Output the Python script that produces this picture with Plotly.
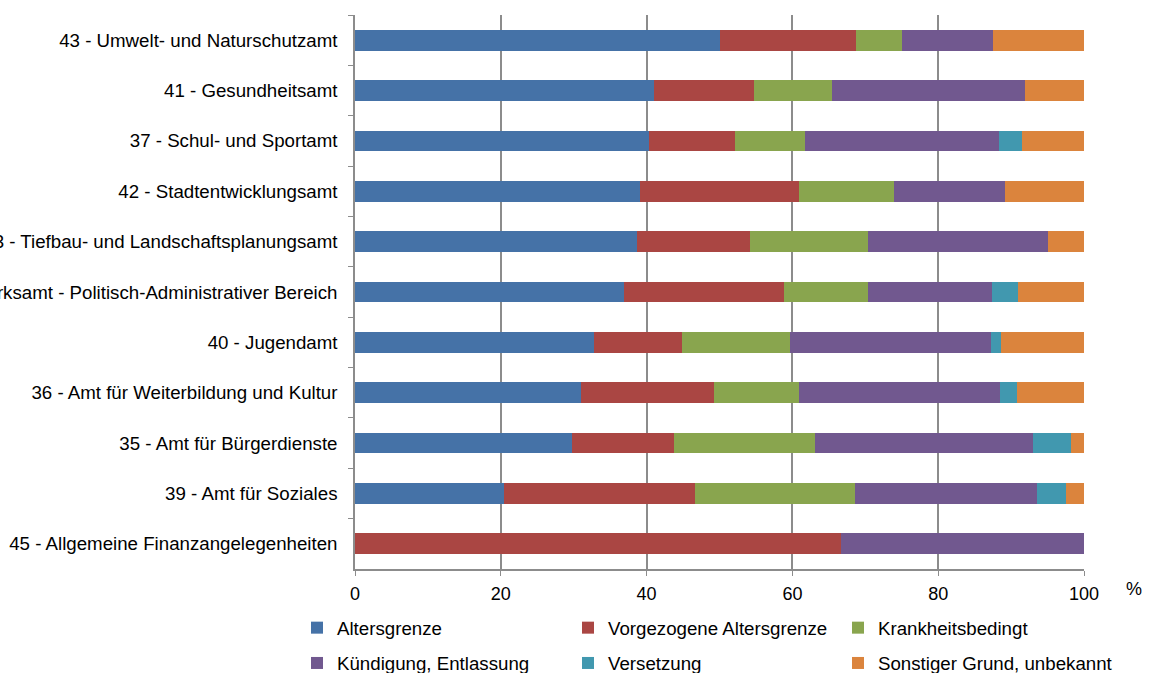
import plotly.graph_objects as go

FONT_FAMILY = "Liberation Sans, Arial, sans-serif"

# categories, top to bottom
aemter = [
    "43 - Umwelt- und Naturschutzamt",
    "41 - Gesundheitsamt",
    "37 - Schul- und Sportamt",
    "42 - Stadtentwicklungsamt",
    "63 - Tiefbau- und Landschaftsplanungsamt",
    "Bezirksamt - Politisch-Administrativer Bereich",
    "40 - Jugendamt",
    "36 - Amt für Weiterbildung und Kultur",
    "35 - Amt für Bürgerdienste",
    "39 - Amt für Soziales",
    "45 - Allgemeine Finanzangelegenheiten",
]

# shares in %, same order as aemter
altersgrenze = [50.0, 41.0, 40.3, 39.1, 38.7, 36.9, 32.8, 31.0, 29.8, 20.4, 0.0]
vorgezogen = [18.75, 13.8, 11.8, 21.8, 15.5, 22.0, 12.1, 18.3, 13.9, 26.3, 66.7]
krankheit = [6.25, 10.6, 9.6, 13.1, 16.2, 11.5, 14.8, 11.6, 19.4, 21.9, 0.0]
kuendigung = [12.5, 26.5, 26.7, 15.2, 24.7, 17.0, 27.5, 27.6, 29.9, 24.9, 33.3]
versetzung = [0.0, 0.0, 3.1, 0.0, 0.0, 3.6, 1.4, 2.3, 5.2, 4.0, 0.0]
sonstiges = [12.5, 8.1, 8.5, 10.8, 4.9, 9.0, 11.4, 9.2, 1.8, 2.5, 0.0]

# (name, values, colour, legend column)
series = [
    ("Altersgrenze", altersgrenze, "#4572A7", "legend"),
    ("Vorgezogene Altersgrenze", vorgezogen, "#AA4643", "legend2"),
    ("Krankheitsbedingt", krankheit, "#89A54E", "legend3"),
    ("Kündigung, Entlassung", kuendigung, "#71588F", "legend"),
    ("Versetzung", versetzung, "#4198AF", "legend2"),
    ("Sonstiger Grund, unbekannt", sonstiges, "#DB843D", "legend3"),
]

x_ticks = [0, 20, 40, 60, 80, 100]

W, H = 1150, 673
L, R, T, B = 355, 66, 15, 104
PW, PH = W - L - R, H - T - B


def px_x(px):
    return (px - L) / PW


def px_y(py):
    return (H - B - py) / PH


fig = go.Figure()
for name, values, color, leg in series:
    fig.add_trace(go.Bar(
        y=aemter, x=values, name=name, orientation="h", legend=leg,
        legendgroup=name,
        marker=dict(color=color, line=dict(width=0)),
    ))

legend_style = dict(
    orientation="v", xref="paper", yref="paper", y=px_y(645.5),
    xanchor="left", yanchor="middle", font=dict(size=18.7),
    traceorder="grouped", tracegroupgap=8, itemclick=False, borderwidth=0,
    bgcolor="rgba(0,0,0,0)",
)

fig.update_layout(
    barmode="stack",
    bargap=0.59,
    width=W, height=H,
    paper_bgcolor="white",
    plot_bgcolor="white",
    margin=dict(l=L, r=R, t=T, b=B, pad=0, autoexpand=False),
    font=dict(family=FONT_FAMILY, size=18, color="black"),
    legend=dict(legend_style, x=px_x(297)),
    legend2=dict(legend_style, x=px_x(568)),
    legend3=dict(legend_style, x=px_x(838)),
    showlegend=True,
)

fig.update_xaxes(
    range=[0, 100], tickvals=x_ticks, showgrid=True, gridcolor="#8c8c8c", gridwidth=1.5,
    showline=True, linecolor="#8c8c8c", linewidth=1.5, ticks="outside", ticklen=5,
    tickcolor="#8c8c8c", zeroline=False, tickfont=dict(size=18), automargin=False,
    ticklabelstandoff=3,
)
fig.update_yaxes(
    autorange="reversed", showline=True, linecolor="#8c8c8c", linewidth=1.5,
    ticks="outside", ticklen=5, tickcolor="#8c8c8c", tickson="boundaries",
    showgrid=False, ticklabelstandoff=12, tickfont=dict(size=18.7), automargin=False,
)

fig.add_annotation(text="%", x=px_x(1134), xref="paper", y=px_y(589),
                   yref="paper", showarrow=False, font=dict(size=18),
                   xanchor="center", yanchor="middle")

fig.write_html("out.html", config={"displayModeBar": False},
               post_script="document.body.style.margin='0';")
